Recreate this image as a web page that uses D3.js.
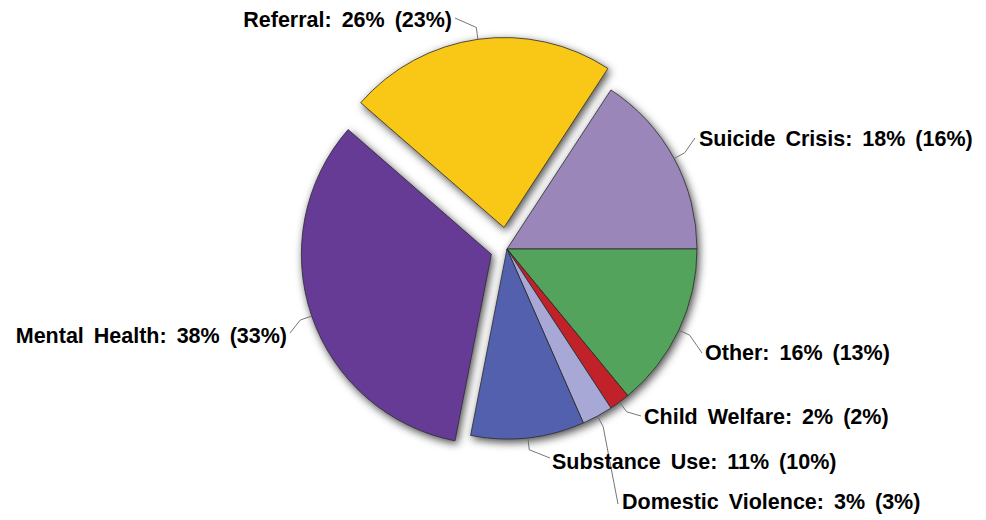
<!DOCTYPE html>
<html>
<head>
<meta charset="utf-8">
<script src="https://cdn.jsdelivr.net/npm/d3@7"></script>
<style>
  html, body { margin: 0; padding: 0; background: #ffffff; }
  svg { display: block; }
  .lbl { font-family: "Liberation Sans", Arial, Helvetica, sans-serif; font-weight: bold; font-size: 21.5px; word-spacing: 4px; fill: #000; }
</style>
</head>
<body>
<svg id="chart" width="986" height="520"></svg>
<script>
// ---- data ----
const categories = ["Referral", "Suicide Crisis", "Other", "Child Welfare", "Domestic Violence", "Substance Use", "Mental Health"];
const values     = [26, 18, 16, 2, 3, 11, 38];
const pctLabels  = ["26%", "18%", "16%", "2%", "3%", "11%", "38%"];
const shareLabels = ["(23%)", "(16%)", "(13%)", "(2%)", "(3%)", "(10%)", "(33%)"];
const colors     = ["#F9C712", "#9B86BA", "#53A35B", "#C1232C", "#A8A8D6", "#5361AE", "#663B96"];
const explode    = [21.7, 0, 0, 0, 0, 0, 16.5];

// ---- layout ----
const W = 986, H = 520;
const cx = 507, cy = 249, R = 190;
const startDeg = -48.95;
// label anchor (text x, baseline y, anchor) and leader end point
const labelLayout = [
  { tx: 452, ty: 27,  anchor: "end",   ex: 455, ey: 18 },
  { tx: 699, ty: 146, anchor: "start", ex: 695, ey: 138 },
  { tx: 705, ty: 360, anchor: "start", ex: 702, ey: 353 },
  { tx: 644, ty: 424, anchor: "start", ex: 641, ey: 416 },
  { tx: 622, ty: 509, anchor: "start", ex: 618, ey: 504 },
  { tx: 552, ty: 469, anchor: "start", ex: 550, ey: 458 },
  { tx: 287, ty: 343, anchor: "end",   ex: 290, ey: 333 }
];

const svg = d3.select("#chart");
const defs = svg.append("defs");
const f = defs.append("filter").attr("id", "shadow")
  .attr("x", "-20%").attr("y", "-20%").attr("width", "140%").attr("height", "140%");
f.append("feDropShadow").attr("dx", 2).attr("dy", 3).attr("stdDeviation", 4)
  .attr("flood-color", "#000").attr("flood-opacity", 0.7);

const a0 = startDeg * Math.PI / 180;
const pie = d3.pie().sort(null).value(d => d).startAngle(a0).endAngle(a0 + 2 * Math.PI);
const arcs = pie(values);
const arc = d3.arc().innerRadius(0).outerRadius(R);

function offset(d, i) {
  const m = (d.startAngle + d.endAngle) / 2;
  return [Math.sin(m) * explode[i], -Math.cos(m) * explode[i]];
}

const g = svg.append("g").attr("transform", `translate(${cx},${cy})`);
const slices = g.append("g").attr("filter", "url(#shadow)");
slices.selectAll("path").data(arcs).join("path")
  .attr("transform", (d, i) => { const o = offset(d, i); return `translate(${o[0]},${o[1]})`; })
  .attr("d", arc)
  .attr("fill", (d, i) => colors[i])
  .attr("stroke", "#2a2a2a")
  .attr("stroke-width", 0.8)
  .attr("stroke-linejoin", "round");

// leader lines
const leaders = g.append("g");
arcs.forEach((d, i) => {
  const m = (d.startAngle + d.endAngle) / 2;
  const o = offset(d, i);
  const p1 = [o[0] + Math.sin(m) * R, o[1] - Math.cos(m) * R];
  const p2 = [o[0] + Math.sin(m) * (R + 12), o[1] - Math.cos(m) * (R + 12)];
  const L = labelLayout[i];
  const p3 = [L.ex - cx, L.ey - cy];
  leaders.append("path")
    .attr("d", d3.line()([p1, p2, p3]))
    .attr("fill", "none")
    .attr("stroke", "#666")
    .attr("stroke-width", 0.9);
});

// labels
svg.append("g").selectAll("text").data(categories).join("text")
  .attr("class", "lbl")
  .attr("x", (d, i) => labelLayout[i].tx)
  .attr("y", (d, i) => labelLayout[i].ty)
  .attr("text-anchor", (d, i) => labelLayout[i].anchor)
  .text((d, i) => `${d}: ${pctLabels[i]} ${shareLabels[i]}`);
</script>
</body>
</html>
